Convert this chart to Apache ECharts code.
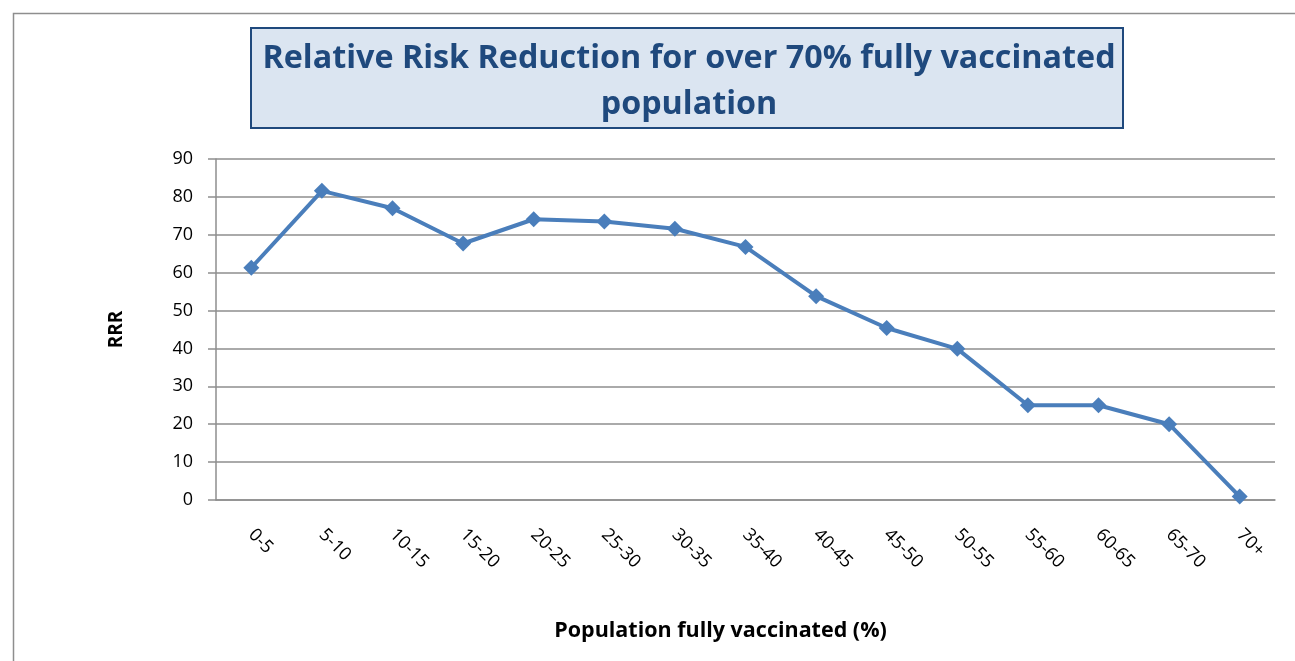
<!DOCTYPE html>
<html>
<head>
<meta charset="utf-8">
<script src="https://cdn.jsdelivr.net/npm/echarts@6/dist/echarts.min.js"></script>
<style>
  html, body { margin: 0; padding: 0; background: #ffffff; }
  #chart { width: 1295px; height: 661px; }
</style>
</head>
<body>
<div id="chart"></div>
<script>
// Vaccination coverage bands (% of population fully vaccinated)
const categories = ['0-5', '5-10', '10-15', '15-20', '20-25', '25-30', '30-35', '35-40',
                    '40-45', '45-50', '50-55', '55-60', '60-65', '65-70', '70+'];
// Relative risk reduction for each band
const rrrValues = [61.3, 81.6, 77.0, 67.7, 74.1, 73.5, 71.6, 66.8,
                   53.8, 45.4, 39.9, 25.0, 25.0, 20.0, 0.9];
const yTicks = { min: 0, max: 90, interval: 10 };

const FONT = '"Open Sans", "DejaVu Sans", sans-serif';
const chart = echarts.init(document.getElementById('chart'));

chart.setOption({
  animation: false,
  backgroundColor: '#ffffff',
  graphic: [
    // chart frame
    { type: 'rect', shape: { x: 13.5, y: 13.5, width: 1320, height: 700 },
      style: { fill: 'none', stroke: '#8e8e8e', lineWidth: 1.5 }, z: 0 },
    // title panel
    { type: 'rect', shape: { x: 251, y: 28, width: 872, height: 100 },
      style: { fill: '#dbe5f1', stroke: '#1f497d', lineWidth: 2 }, z: 0 }
  ],
  title: {
    text: 'Relative Risk Reduction for over 70% fully vaccinated\npopulation',
    left: 684,
    top: 31,
    textAlign: 'center',
    textStyle: { fontFamily: FONT, fontSize: 32.3, fontWeight: 'bold', color: '#1f497d', lineHeight: 46 }
  },
  grid: { left: 216, right: 20, top: 159, bottom: 161, containLabel: false },
  xAxis: {
    type: 'category',
    data: categories,
    boundaryGap: true,
    name: 'Population fully vaccinated (%)',
    nameLocation: 'middle',
    nameGap: 120,
    nameTextStyle: { fontFamily: FONT, fontSize: 21.5, fontWeight: 'bold', color: '#000', padding: [0, 50, 0, 0] },
    axisLine: { lineStyle: { color: '#8e8e8e', width: 1.5 } },
    axisTick: { show: false },
    axisLabel: { rotate: -45, margin: 32, fontFamily: FONT, fontSize: 18, color: '#000', interval: 0 },
    splitLine: { show: false }
  },
  yAxis: {
    type: 'value',
    min: yTicks.min, max: yTicks.max, interval: yTicks.interval,
    name: 'RRR',
    nameLocation: 'middle',
    nameGap: 90,
    nameRotate: 90,
    nameTextStyle: { fontFamily: FONT, fontSize: 19, fontWeight: 'bold', color: '#000' },
    axisLine: { show: true, lineStyle: { color: '#8e8e8e', width: 1.5 } },
    axisTick: { show: true, length: 8, lineStyle: { color: '#8e8e8e', width: 1.5 } },
    axisLabel: { margin: 23, fontFamily: FONT, fontSize: 18, color: '#000' },
    splitLine: { lineStyle: { color: '#8e8e8e', width: 1.5 } }
  },
  series: [{
    type: 'line',
    data: rrrValues,
    symbol: 'diamond',
    symbolSize: 16,
    lineStyle: { color: '#4a7ebb', width: 4 },
    itemStyle: { color: '#4a7ebb' },
    z: 3
  }]
});
</script>
</body>
</html>
